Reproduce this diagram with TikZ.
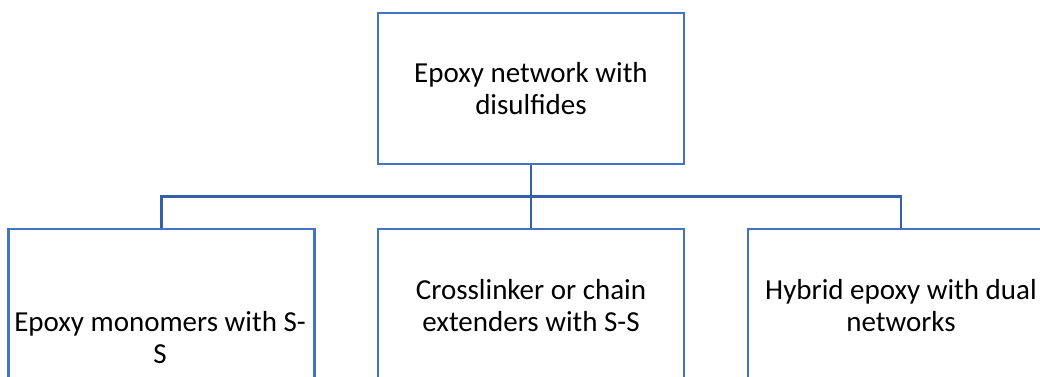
\documentclass[tikz,border=0pt]{standalone}
\usepackage{fontspec}
\setmainfont{Carlito}
\definecolor{boxblue}{HTML}{4472C4}
\definecolor{linkblue}{HTML}{3560A8}
\tikzset{
  box/.style={draw=boxblue, line width=2.5pt, fill=white, minimum width=306pt, minimum height=151pt, inner sep=0pt},
  boxtext/.style={align=center, inner sep=0pt, font=\fontsize{29}{32}\selectfont},
  link/.style={draw=linkblue, line width=2.6pt}
}
\begin{document}
\begin{tikzpicture}[x=1pt,y=-1pt]
\useasboundingbox (0,0) rectangle (1040,376);
\clip (0,0) rectangle (1040,376);
\fill[white] (0,0) rectangle (1040,376);
\node[box] (top) at (531,88.5) {};
\node[box, minimum height=154pt] (b1) at (161.5,306) {};
\node[box, minimum height=154pt] (b2) at (531,306) {};
\node[box, minimum height=154pt] (b3) at (901,306) {};
\node[boxtext] (t0) at (top.center) {Epoxy network with\\disulfides};
\node[boxtext] (t1) at (160,337.5) {Epoxy monomers with S-\\S};
\node[boxtext] (t2) at (b2.center) {Crosslinker or chain\\extenders with S-S};
\node[boxtext] (t3) at (b3.center) {Hybrid epoxy with dual\\networks};
\draw[link] (top.south) -- (top.south |- 0,196.5) coordinate (jc);
\draw[link] (b1.north) -- (b1.north |- 0,196.5) -| (b3.north);
\draw[link] (jc) -- (b2.north);
\end{tikzpicture}
\end{document}
